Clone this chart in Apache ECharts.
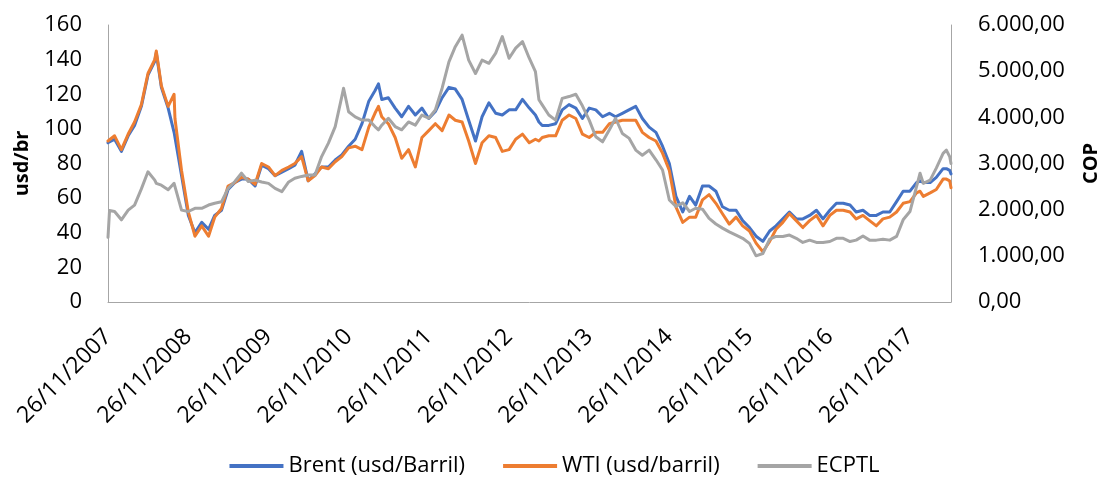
<!DOCTYPE html>
<html>
<head>
<meta charset="utf-8">
<script src="https://cdn.jsdelivr.net/npm/echarts@6/dist/echarts.min.js"></script>
<style>
  html, body { margin: 0; background: #fff; }
  #chart { width: 1109px; height: 484px; }
</style>
</head>
<body>
<div id="chart"></div>
<script>
// fechas (dd/mm/aaaa), mensual + algunos extremos
const dates = [
  "26/11/2007","03/12/2007","26/12/2007",
  "26/01/2008","26/02/2008","26/03/2008","26/04/2008","26/05/2008","26/06/2008","03/07/2008","26/07/2008","26/08/2008","22/09/2008","26/09/2008","26/10/2008","26/11/2008","26/12/2008",
  "26/01/2009","26/02/2009","26/03/2009","26/04/2009","26/05/2009","26/06/2009","26/07/2009","26/08/2009","26/09/2009","26/10/2009","26/11/2009","26/12/2009",
  "26/01/2010","26/02/2010","26/03/2010","26/04/2010","26/05/2010","26/06/2010","26/07/2010","26/08/2010","26/09/2010","26/10/2010","03/11/2010","26/11/2010","26/12/2010",
  "26/01/2011","26/02/2011","26/03/2011","11/04/2011","26/04/2011","26/05/2011","26/06/2011","26/07/2011","26/08/2011","26/09/2011","26/10/2011","26/11/2011","26/12/2011",
  "26/01/2012","26/02/2012","26/03/2012","26/04/2012","26/05/2012","26/06/2012","26/07/2012","26/08/2012","26/09/2012","26/10/2012","26/11/2012","26/12/2012",
  "26/01/2013","26/02/2013","26/03/2013","11/04/2013","26/04/2013","26/05/2013","26/06/2013","26/07/2013","26/08/2013","26/09/2013","26/10/2013","26/11/2013","26/12/2013",
  "26/01/2014","26/02/2014","26/03/2014","26/04/2014","26/05/2014","26/06/2014","26/07/2014","26/08/2014","26/09/2014","26/10/2014","26/11/2014","26/12/2014",
  "26/01/2015","26/02/2015","26/03/2015","26/04/2015","26/05/2015","26/06/2015","26/07/2015","26/08/2015","26/09/2015","26/10/2015","26/11/2015","26/12/2015",
  "26/01/2016","26/02/2016","26/03/2016","26/04/2016","26/05/2016","26/06/2016","26/07/2016","26/08/2016","26/09/2016","26/10/2016","26/11/2016","26/12/2016",
  "26/01/2017","26/02/2017","26/03/2017","26/04/2017","26/05/2017","26/06/2017","26/07/2017","26/08/2017","26/09/2017","26/10/2017","26/11/2017","26/12/2017",
  "11/01/2018","26/01/2018","26/02/2018","26/03/2018","26/04/2018","11/05/2018","26/05/2018","01/06/2018"
];

const brent = [
  92, 92, 94,
  87, 96, 102, 113, 131, 139, 144, 124, 112, 98, 99, 73, 50, 40,
  46, 42, 50, 53, 65, 69, 71, 71, 67, 79, 77, 73,
  75, 77, 79, 87, 70, 74, 78, 78, 82, 85, 86, 90, 94,
  103, 116, 122, 126, 117, 118, 112, 107, 113, 108, 112, 106, 110,
  118, 124, 123, 117, 105, 93, 107, 115, 109, 108, 111, 111,
  117, 112, 108, 104, 102, 102, 103, 111, 114, 112, 106, 112, 111,
  107, 109, 107, 109, 111, 113, 106, 101, 98, 90, 80, 61,
  52, 61, 56, 67, 67, 64, 55, 53, 53, 47, 43, 38,
  35, 41, 44, 48, 52, 48, 48, 50, 53, 48, 53, 57,
  57, 56, 52, 53, 50, 50, 52, 52, 58, 64, 64, 69,
  70, 69, 69, 72, 77, 77, 76, 74
];

const wti = [
  93, 94, 96,
  88, 97, 104, 114, 132, 140, 145, 125, 113, 120, 106, 76, 52, 38,
  44, 38, 49, 54, 67, 69, 72, 71, 68, 80, 78, 73,
  76, 78, 80, 84, 70, 73, 78, 77, 81, 84, 85, 89, 90,
  88, 101, 109, 113, 107, 103, 95, 83, 88, 78, 95, 99, 103,
  99, 108, 105, 104, 93, 80, 92, 96, 95, 87, 88, 94,
  97, 92, 94, 93, 95, 96, 96, 105, 108, 106, 97, 95, 98,
  98, 103, 104, 105, 105, 105, 98, 95, 93, 86, 76, 55,
  46, 49, 49, 59, 62, 57, 51, 45, 49, 44, 41, 34,
  29, 35, 42, 46, 51, 47, 43, 47, 50, 44, 50, 53,
  53, 52, 48, 50, 47, 44, 48, 49, 52, 57, 58, 63,
  64, 61, 63, 65, 71, 71, 70, 66
];

const ecptl = [
  1400, 1980, 1960,
  1780, 1990, 2100, 2450, 2820, 2640, 2570, 2530, 2430, 2570, 2530, 1990, 1960, 2030,
  2030, 2100, 2140, 2170, 2460, 2610, 2790, 2610, 2640, 2600, 2570, 2460,
  2390, 2600, 2680, 2720, 2750, 2750, 3150, 3440, 3800, 4450, 4630, 4120, 4010,
  3940, 3940, 3800, 3730, 3830, 3980, 3800, 3730, 3900, 3830, 4050, 3980, 4160,
  4630, 5200, 5530, 5780, 5240, 4950, 5240, 5170, 5390, 5750, 5280, 5500,
  5640, 5280, 4990, 4380, 4270, 4050, 3940, 4410, 4450, 4500, 4250, 3940, 3580,
  3470, 3730, 3980, 3650, 3550, 3290, 3180, 3290, 3080, 2860, 2210, 2070,
  2150, 1960, 2030, 2010, 1810, 1690, 1600, 1520, 1450, 1380, 1270, 1000,
  1050, 1360, 1420, 1420, 1450, 1380, 1290, 1340, 1290, 1290, 1310, 1380,
  1380, 1310, 1340, 1430, 1340, 1340, 1360, 1340, 1420, 1780, 1960, 2500,
  2790, 2570, 2640, 2900, 3220, 3290, 3150, 3000
];

const seriesNames = ["Brent (usd/Barril)", "WTI (usd/barril)", "ECPTL"];
const colors = ["#4472C4", "#ED7D31", "#A5A5A5"];

const FONT = "Open Sans";
const DAY_MS = 86400000;
const YEAR_DAYS = 365.25;

function toTime(s) {
  const [d, m, y] = s.split("/").map(Number);
  return Date.UTC(y, m - 1, d);
}

const t0 = toTime(dates[0]);
const days = dates.map((s) => Math.round((toTime(s) - t0) / DAY_MS));
const startYear = Number(dates[0].split("/")[2]);

function pairs(values) {
  return values.map((v, i) => [days[i], v]);
}

function formatCop(value) {
  const [intPart, dec] = value.toFixed(2).split(".");
  return intPart.replace(/\B(?=(\d{3})+(?!\d))/g, ".") + "," + dec;
}

function dateLabel(value) {
  const k = value / YEAR_DAYS;
  if (Math.abs(k - Math.round(k)) > 0.001) {
    return "";
  }
  return "26/11/" + (startYear + Math.round(k));
}

const chart = echarts.init(document.getElementById("chart"));

chart.setOption({
  animation: false,
  backgroundColor: "#ffffff",
  textStyle: { fontFamily: FONT },
  grid: {
    left: 108,
    right: 155,
    top: 25,
    bottom: 182,
    containLabel: false,
  },
  legend: {
    bottom: 2,
    left: "center",
    icon: "rect",
    itemWidth: 54,
    itemHeight: 4,
    itemGap: 38,
    textStyle: { fontFamily: FONT, fontSize: 22, color: "#000" },
    data: seriesNames,
  },
  xAxis: {
    type: "value",
    min: 0,
    max: days[days.length - 1],
    interval: YEAR_DAYS,
    axisLine: { show: true, lineStyle: { color: "#a6a6a6", width: 1 } },
    axisTick: { show: false },
    splitLine: { show: false },
    axisLabel: {
      rotate: 45,
      margin: 31,
      showMaxLabel: false,
      color: "#000",
      fontFamily: FONT,
      fontSize: 23,
      formatter: dateLabel,
    },
  },
  yAxis: [
    {
      type: "value",
      min: 0,
      max: 160,
      interval: 20,
      name: "usd/br",
      nameLocation: "middle",
      nameRotate: 90,
      nameGap: 76,
      nameTextStyle: { fontFamily: FONT, fontSize: 20, fontWeight: "bold", color: "#000" },
      axisLine: { show: true, lineStyle: { color: "#a6a6a6", width: 1 } },
      axisTick: { show: false },
      splitLine: { show: false },
      axisLabel: { margin: 26, color: "#000", fontFamily: FONT, fontSize: 22 },
    },
    {
      type: "value",
      min: 0,
      max: 6000,
      interval: 1000,
      position: "right",
      name: "COP",
      nameLocation: "middle",
      nameRotate: 90,
      nameGap: 130,
      nameTextStyle: { fontFamily: FONT, fontSize: 20, fontWeight: "bold", color: "#000" },
      axisLine: { show: true, lineStyle: { color: "#a6a6a6", width: 1 } },
      axisTick: { show: false },
      splitLine: { show: false },
      axisLabel: {
        margin: 27,
        color: "#000",
        fontFamily: FONT,
        fontSize: 22,
        formatter: formatCop,
      },
    },
  ],
  series: [
    {
      name: seriesNames[0],
      type: "line",
      yAxisIndex: 0,
      symbol: "none",
      data: pairs(brent),
      color: colors[0],
      lineStyle: { color: colors[0], width: 3, cap: "round", join: "round" },
    },
    {
      name: seriesNames[1],
      type: "line",
      yAxisIndex: 0,
      symbol: "none",
      data: pairs(wti),
      color: colors[1],
      lineStyle: { color: colors[1], width: 3, cap: "round", join: "round" },
    },
    {
      name: seriesNames[2],
      type: "line",
      yAxisIndex: 1,
      symbol: "none",
      data: pairs(ecptl),
      color: colors[2],
      lineStyle: { color: colors[2], width: 3, cap: "round", join: "round" },
    },
  ],
});
</script>
</body>
</html>
